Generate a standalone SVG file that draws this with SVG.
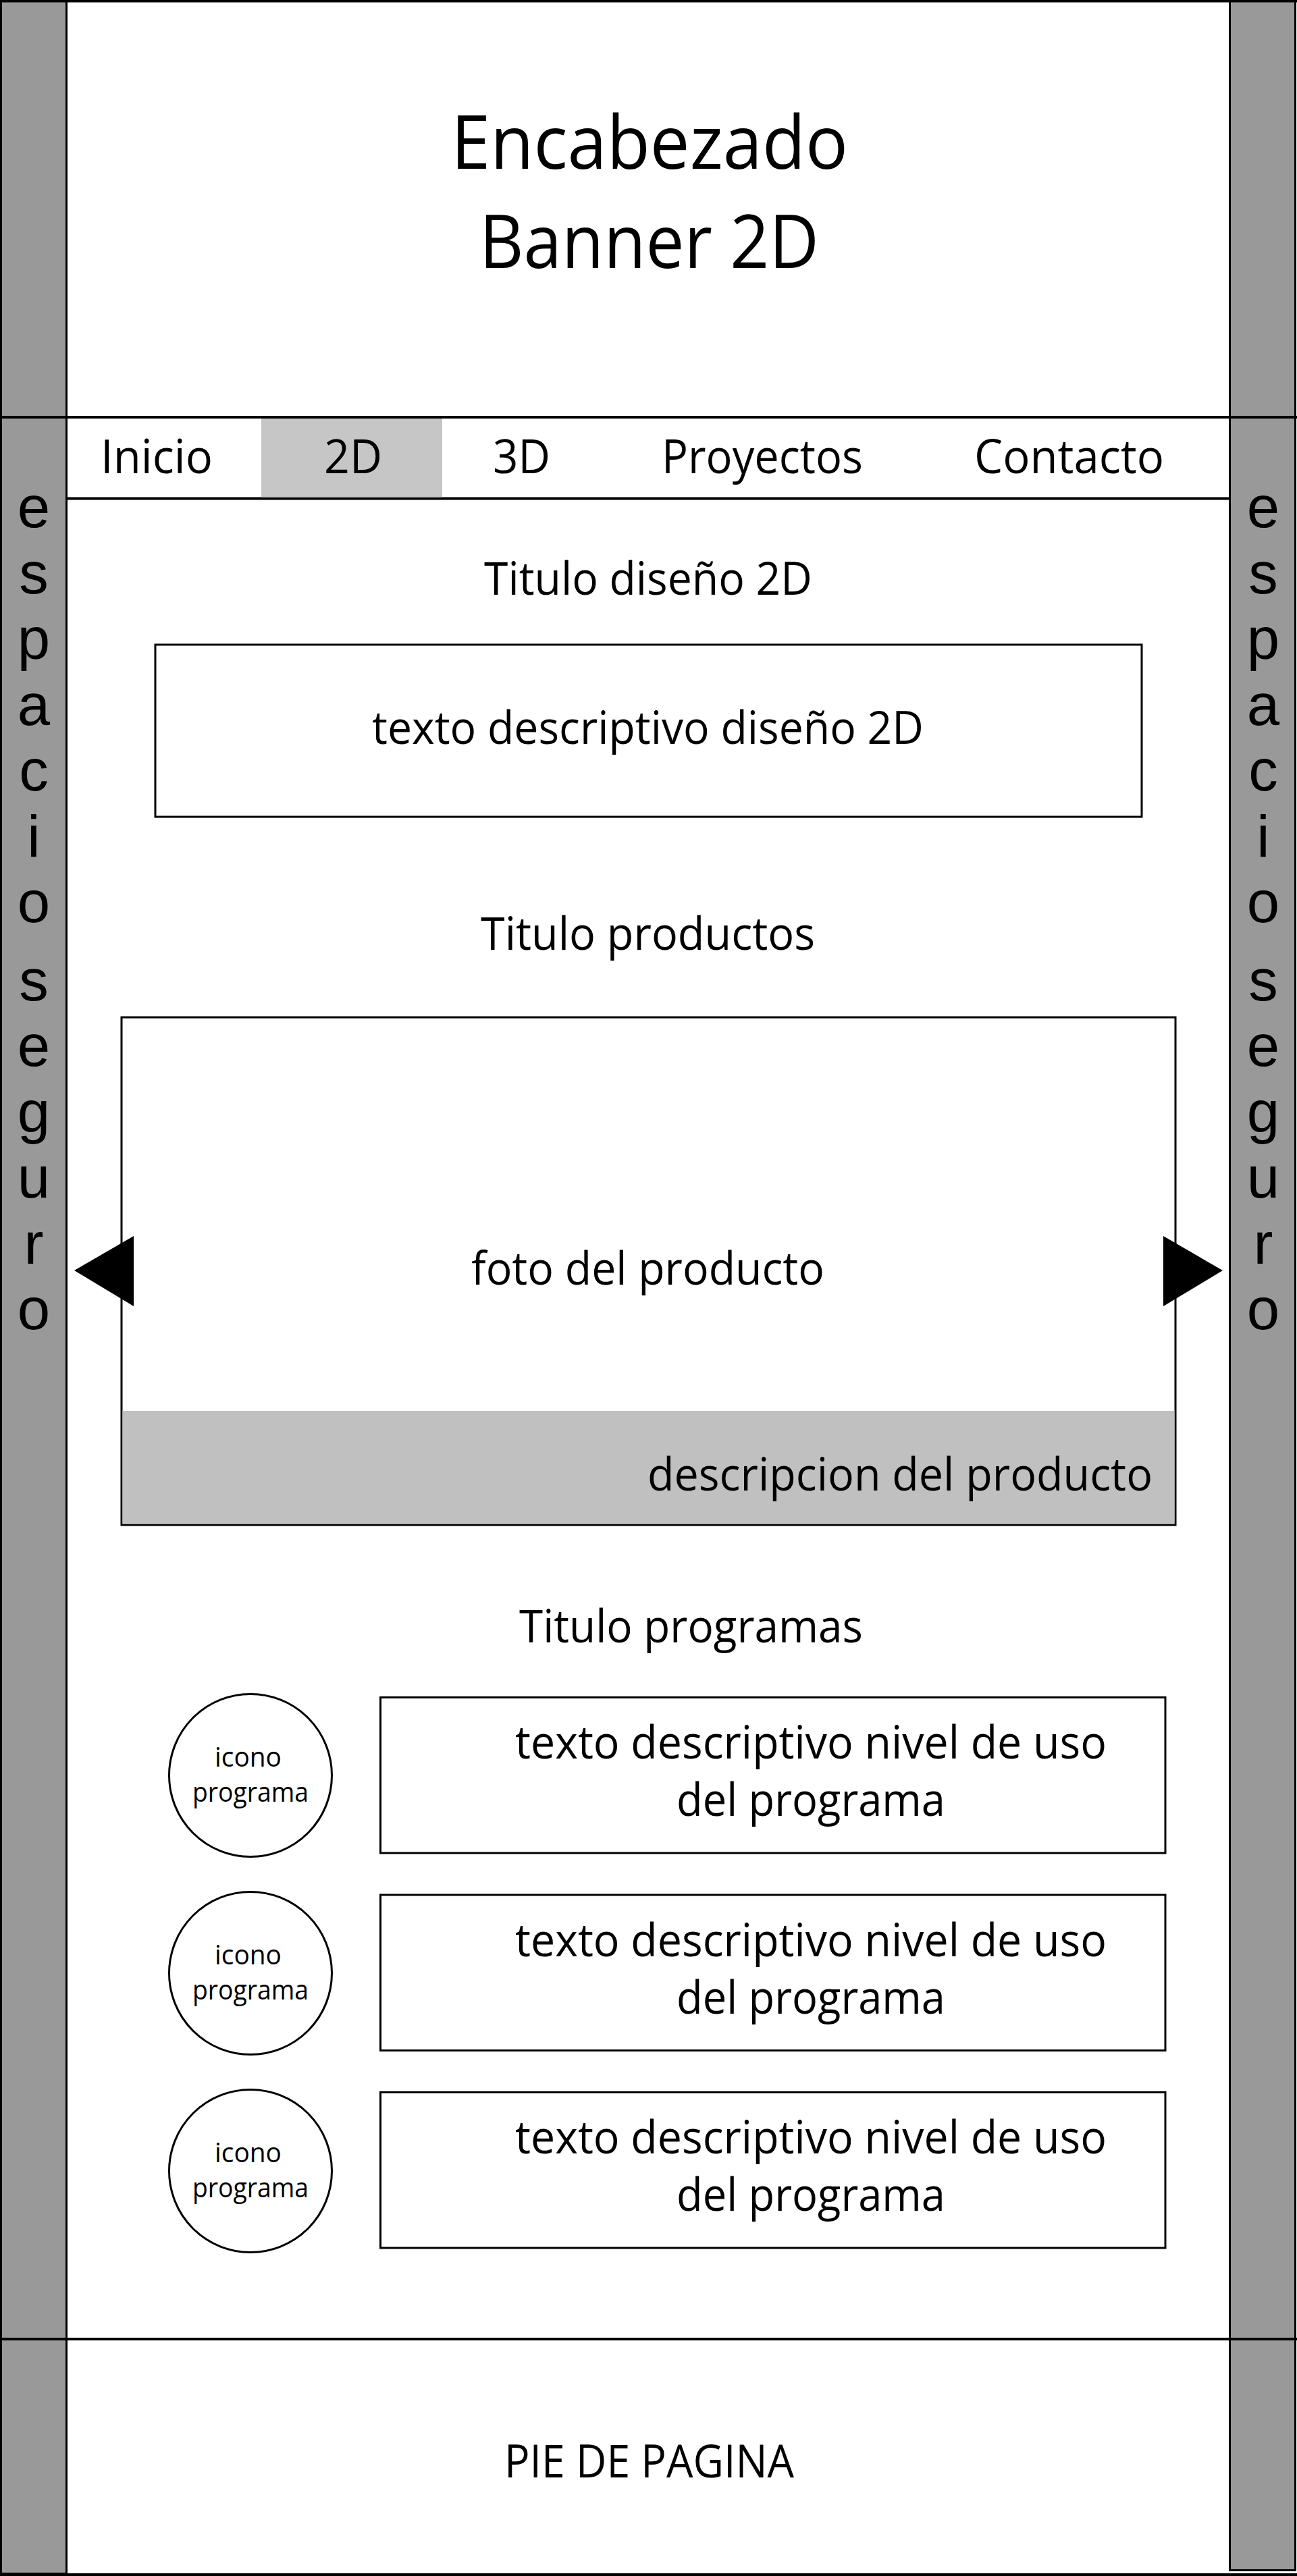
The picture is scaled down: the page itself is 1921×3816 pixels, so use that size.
<svg xmlns="http://www.w3.org/2000/svg" width="1921" height="3816" viewBox="0 0 1921 3816">
<style>
text{font-family:"Open Sans","Noto Sans","Liberation Sans",sans-serif;fill:#000}
.t{font-size:68px}
.nav{font-size:70px}
.big{font-size:110px}
.sm{font-size:40px}
.v{font-family:"Liberation Sans",Arial,sans-serif;font-size:87px;text-anchor:middle}
.box{fill:#fff;stroke:#000;stroke-width:3}
.bar{fill:#999;stroke:#000;stroke-width:3}
.ln{stroke:#000;stroke-width:4;fill:none}
</style>
<rect x="0" y="0" width="1921" height="3816" fill="#fff"/>
<g id="side-left">
<rect class="bar" x="1.5" y="1.5" width="97" height="3811"/>
<text class="v" x="50" y="781">e</text>
<text class="v" x="50" y="878.5">s</text>
<text class="v" x="50" y="976">p</text>
<text class="v" x="50" y="1073.5">a</text>
<text class="v" x="50" y="1171">c</text>
<text class="v" x="50" y="1268.5">i</text>
<text class="v" x="50" y="1366">o</text>
<text class="v" x="50" y="1481.5">s</text>
<text class="v" x="50" y="1579">e</text>
<text class="v" x="50" y="1676.5">g</text>
<text class="v" x="50" y="1774">u</text>
<text class="v" x="50" y="1871.5">r</text>
<text class="v" x="50" y="1969">o</text>
</g>
<g id="side-right">
<rect class="bar" x="1821.5" y="1.5" width="97" height="3806"/>
<text class="v" x="1871" y="781">e</text>
<text class="v" x="1871" y="878.5">s</text>
<text class="v" x="1871" y="976">p</text>
<text class="v" x="1871" y="1073.5">a</text>
<text class="v" x="1871" y="1171">c</text>
<text class="v" x="1871" y="1268.5">i</text>
<text class="v" x="1871" y="1366">o</text>
<text class="v" x="1871" y="1481.5">s</text>
<text class="v" x="1871" y="1579">e</text>
<text class="v" x="1871" y="1676.5">g</text>
<text class="v" x="1871" y="1774">u</text>
<text class="v" x="1871" y="1871.5">r</text>
<text class="v" x="1871" y="1969">o</text>
</g>
<g id="frame">
<line class="ln" x1="0" y1="1.5" x2="1921" y2="1.5"/>
<line class="ln" x1="0" y1="3814" x2="1921" y2="3814"/>
<line class="ln" x1="0" y1="618" x2="1921" y2="618"/>
<line class="ln" x1="98" y1="738.5" x2="1822" y2="738.5"/>
<line class="ln" x1="0" y1="3465" x2="1921" y2="3465"/>
</g>
<g id="header">
<text class="big" x="668" y="250" textLength="588" lengthAdjust="spacingAndGlyphs">Encabezado</text>
<text class="big" x="710" y="397" textLength="503" lengthAdjust="spacingAndGlyphs">Banner 2D</text>
</g>
<g id="nav">
<rect x="387" y="620" width="268" height="116.5" fill="#c6c6c6"/>
<text class="nav" x="149" y="701" textLength="166" lengthAdjust="spacingAndGlyphs">Inicio</text>
<text class="nav" x="480" y="701" textLength="86" lengthAdjust="spacingAndGlyphs">2D</text>
<text class="nav" x="730" y="701" textLength="85" lengthAdjust="spacingAndGlyphs">3D</text>
<text class="nav" x="980" y="701" textLength="298" lengthAdjust="spacingAndGlyphs">Proyectos</text>
<text class="nav" x="1443" y="701" textLength="281" lengthAdjust="spacingAndGlyphs">Contacto</text>
</g>
<g id="titulo-diseno">
<text class="t" x="717" y="881" textLength="486" lengthAdjust="spacingAndGlyphs">Titulo diseño 2D</text>
</g>
<g id="texto-diseno">
<rect class="box" x="230" y="955" width="1461" height="255"/>
<text class="t" x="551" y="1102" textLength="817" lengthAdjust="spacingAndGlyphs">texto descriptivo diseño 2D</text>
</g>
<g id="titulo-productos">
<text class="t" x="712" y="1407" textLength="495" lengthAdjust="spacingAndGlyphs">Titulo productos</text>
</g>
<g id="producto">
<rect class="box" x="180" y="1507" width="1561" height="752"/>
<rect x="181.5" y="2090" width="1558" height="167.5" fill="#c0c0c0"/>
<text class="t" x="698" y="1903" textLength="523" lengthAdjust="spacingAndGlyphs">foto del producto</text>
<text class="t" x="959" y="2208" textLength="748" lengthAdjust="spacingAndGlyphs">descripcion del producto</text>
</g>
<g id="flecha-izq">
<polygon points="110,1882 198,1831 198,1935" fill="#000"/>
</g>
<g id="flecha-der">
<polygon points="1723,1831 1811,1882 1723,1935" fill="#000"/>
</g>
<g id="titulo-programas">
<text class="t" x="769" y="2433" textLength="509" lengthAdjust="spacingAndGlyphs">Titulo programas</text>
</g>
<g id="programa-1">
<circle class="box" cx="371" cy="2630" r="120.5"/>
<text class="sm" x="318" y="2617" textLength="99" lengthAdjust="spacingAndGlyphs">icono</text>
<text class="sm" x="285" y="2669" textLength="172" lengthAdjust="spacingAndGlyphs">programa</text>
<rect class="box" x="563.5" y="2514.5" width="1162.5" height="230.5"/>
<text class="t" x="763" y="2605" textLength="876" lengthAdjust="spacingAndGlyphs">texto descriptivo nivel de uso</text>
<text class="t" x="1002" y="2690" textLength="398" lengthAdjust="spacingAndGlyphs">del programa</text>
</g>
<g id="programa-2">
<circle class="box" cx="371" cy="2923" r="120.5"/>
<text class="sm" x="318" y="2910" textLength="99" lengthAdjust="spacingAndGlyphs">icono</text>
<text class="sm" x="285" y="2962" textLength="172" lengthAdjust="spacingAndGlyphs">programa</text>
<rect class="box" x="563.5" y="2807" width="1162.5" height="230.5"/>
<text class="t" x="763" y="2897.5" textLength="876" lengthAdjust="spacingAndGlyphs">texto descriptivo nivel de uso</text>
<text class="t" x="1002" y="2982.5" textLength="398" lengthAdjust="spacingAndGlyphs">del programa</text>
</g>
<g id="programa-3">
<circle class="box" cx="371" cy="3216" r="120.5"/>
<text class="sm" x="318" y="3203" textLength="99" lengthAdjust="spacingAndGlyphs">icono</text>
<text class="sm" x="285" y="3255" textLength="172" lengthAdjust="spacingAndGlyphs">programa</text>
<rect class="box" x="563.5" y="3099.5" width="1162.5" height="230.5"/>
<text class="t" x="763" y="3190" textLength="876" lengthAdjust="spacingAndGlyphs">texto descriptivo nivel de uso</text>
<text class="t" x="1002" y="3275" textLength="398" lengthAdjust="spacingAndGlyphs">del programa</text>
</g>
<g id="footer">
<text class="t" x="747" y="3670" textLength="429" lengthAdjust="spacingAndGlyphs">PIE DE PAGINA</text>
</g>
</svg>
